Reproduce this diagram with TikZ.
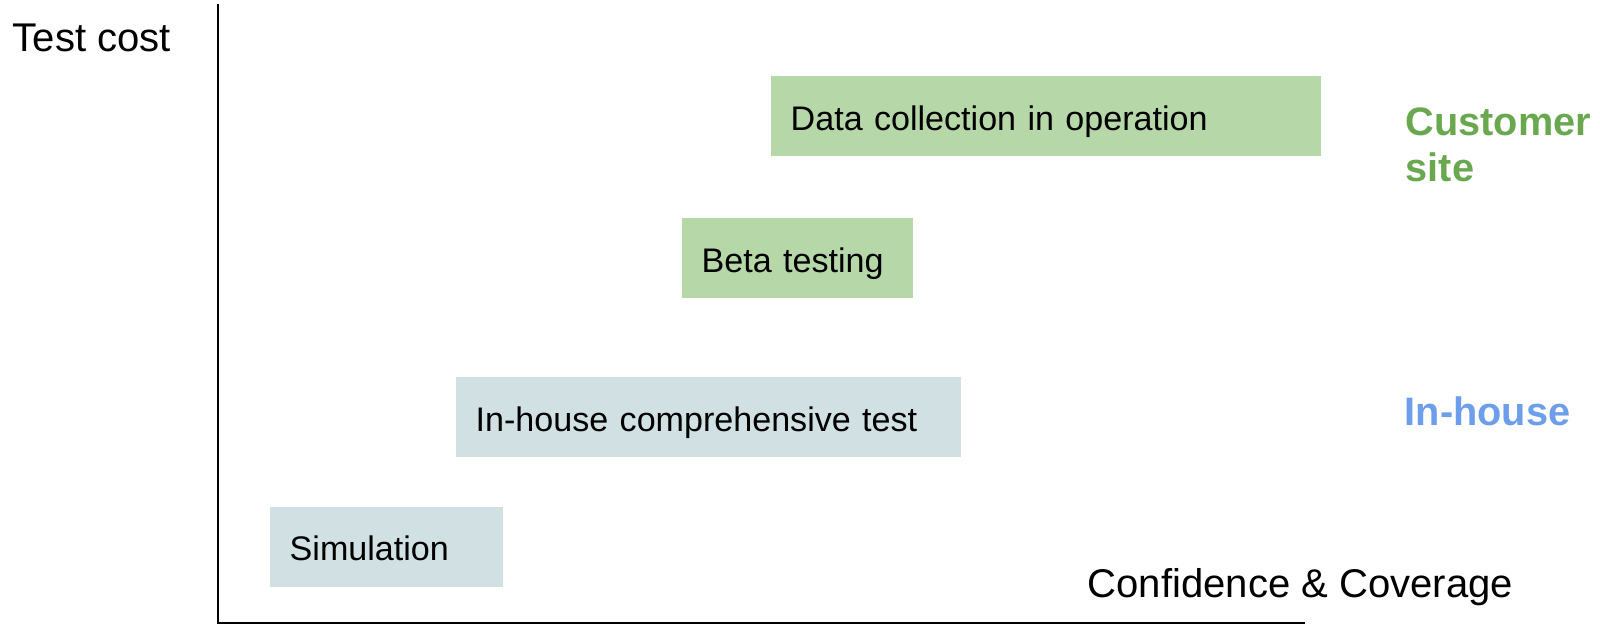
\documentclass[tikz,border=0pt]{standalone}
\usepackage{fontspec}
\setmainfont{Liberation Sans}
\usepackage{tikz}

\definecolor{sitegreen}{RGB}{182,215,168}
\definecolor{housegrey}{RGB}{208,224,227}
\definecolor{sitelabel}{RGB}{106,168,79}
\definecolor{houselabel}{RGB}{109,158,235}

\begin{document}
\begin{tikzpicture}[auto,scale=1.0]
        \tikzstyle{stage}=[rectangle,anchor=west,inner xsep=0.2cm,inner ysep=0pt,minimum height=0.8cm,align=left,text height=0.9em,text depth=0.1em,font=\fontsize{9.7}{11.6}\selectfont]
        \tikzstyle{axislabel}=[inner sep=0pt,anchor=base west,font=\fontsize{11.4}{13.6}\selectfont]
        \tikzstyle{sitelabel}=[inner sep=0pt,align=left,font=\fontsize{11.3}{13.3}\selectfont\bfseries]
        \useasboundingbox (0,0) rectangle (16,6.25);
        \coordinate (origin) at (2.177,0.017);
        \coordinate (ytop) at (2.177,6.21);
        \coordinate (xend) at (13.05,0.017);
        \draw [line width=0.57pt] (ytop) -- (origin) -- (xend);
        \node [axislabel] (cost) at (0.12, 5.733) {Test cost};
        \node [axislabel] (coverage) at (10.87, 0.28) {Confidence \& Coverage};
        \node [stage,fill=sitegreen,text width=5.1cm] (data) at (7.70, 5.09) {Data collection in operation};
        \node [stage,fill=sitegreen,text width=1.91cm] (beta) at (6.81, 3.67) {Beta testing};
        \node [stage,fill=housegrey,text width=4.65cm] (full) at (4.55, 2.08) {In-house comprehensive test};
        \node [stage,fill=housegrey,text width=1.93cm] (sim) at (2.69, 0.785) {Simulation};
        \node [sitelabel,text=sitelabel,anchor=north west] (customer) at (14.05, 5.183) {Customer\\site};
        \node [sitelabel,text=houselabel,anchor=base west] (inhouse) at (14.04, 2.00) {In-house};
    \end{tikzpicture}
\end{document}
